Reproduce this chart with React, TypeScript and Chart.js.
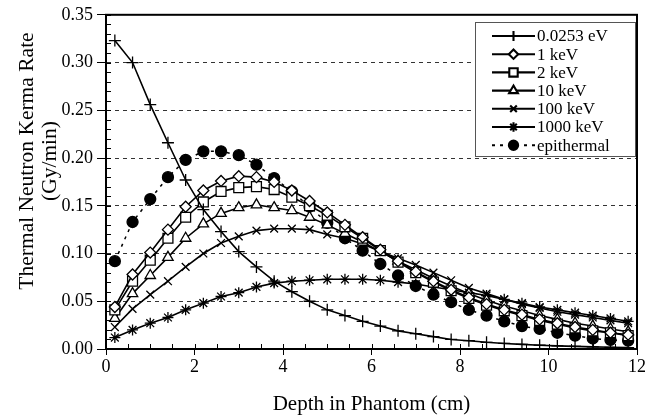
import React, { useEffect, useRef } from 'react';
import { Chart, registerables } from 'chart.js';
import { drawPoint } from 'chart.js/helpers';

Chart.register(...registerables);

// ---- data ----
const depthCm = [0.2, 0.6, 1.0, 1.4, 1.8, 2.2, 2.6, 3.0, 3.4, 3.8, 4.2, 4.6, 5.0, 5.4, 5.8, 6.2, 6.6, 7.0, 7.4, 7.8, 8.2, 8.6, 9.0, 9.4, 9.8, 10.2, 10.6, 11.0, 11.4, 11.8];

const thermal0253eV = [0.323, 0.300, 0.256, 0.216, 0.177, 0.146, 0.123, 0.102, 0.086, 0.071, 0.060, 0.050, 0.041, 0.035, 0.029, 0.024, 0.019, 0.016, 0.013, 0.010, 0.0087, 0.007, 0.0058, 0.0048, 0.004, 0.0033, 0.0027, 0.0022, 0.0018, 0.0015];
const kev1 = [0.044, 0.078, 0.101, 0.125, 0.149, 0.166, 0.176, 0.181, 0.180, 0.175, 0.166, 0.155, 0.143, 0.130, 0.117, 0.104, 0.092, 0.081, 0.071, 0.062, 0.054, 0.047, 0.041, 0.036, 0.031, 0.027, 0.023, 0.020, 0.017, 0.015];
const kev2 = [0.041, 0.071, 0.093, 0.116, 0.138, 0.154, 0.165, 0.169, 0.170, 0.167, 0.159, 0.150, 0.140, 0.128, 0.116, 0.103, 0.091, 0.080, 0.070, 0.061, 0.053, 0.046, 0.040, 0.035, 0.030, 0.026, 0.022, 0.019, 0.017, 0.014];
const kev10 = [0.032, 0.058, 0.077, 0.096, 0.116, 0.131, 0.142, 0.148, 0.151, 0.148, 0.145, 0.138, 0.130, 0.121, 0.112, 0.102, 0.092, 0.083, 0.074, 0.066, 0.058, 0.051, 0.045, 0.040, 0.035, 0.031, 0.027, 0.024, 0.021, 0.018];
const kev100 = [0.023, 0.042, 0.057, 0.071, 0.086, 0.100, 0.111, 0.118, 0.124, 0.126, 0.126, 0.125, 0.120, 0.116, 0.110, 0.102, 0.095, 0.088, 0.080, 0.072, 0.064, 0.058, 0.052, 0.047, 0.043, 0.039, 0.036, 0.033, 0.030, 0.027];
const kev1000 = [0.012, 0.020, 0.027, 0.033, 0.041, 0.048, 0.055, 0.059, 0.065, 0.069, 0.071, 0.072, 0.073, 0.073, 0.073, 0.072, 0.070, 0.068, 0.065, 0.062, 0.059, 0.056, 0.052, 0.048, 0.044, 0.041, 0.038, 0.035, 0.032, 0.029];
const epithermal = [0.092, 0.133, 0.157, 0.180, 0.198, 0.207, 0.207, 0.203, 0.193, 0.179, 0.165, 0.149, 0.132, 0.116, 0.103, 0.089, 0.077, 0.066, 0.057, 0.049, 0.041, 0.035, 0.029, 0.024, 0.021, 0.017, 0.014, 0.011, 0.0095, 0.0087];

const seriesLabels = ['0.0253 eV', '1 keV', '2 keV', '10 keV', '100 keV', '1000 keV', 'epithermal'];
const xTitle = 'Depth in Phantom (cm)';
const yTitle = ['Thermal Neutron Kerma Rate', '(Gy/min)'];

const SERIF = '"Liberation Serif", "Times New Roman", serif';

const toPts = (ys: number[]) => ys.map((y, i) => ({ x: depthCm[i], y }));

const boxPlugin = {
  id: 'plotBox',
  beforeDatasetsDraw(chart: any) {
    const { ctx, chartArea: a } = chart;
    ctx.save();
    ctx.strokeStyle = '#000';
    ctx.lineWidth = 2;
    ctx.strokeRect(a.left, a.top, a.right - a.left, a.bottom - a.top);
    ctx.lineWidth = 1;
    const xs = chart.scales.x;
    const ys = chart.scales.y;
    ctx.beginPath();
    for (let v = 0; v <= 12.0001; v += 0.5) {
      const px = Math.round(xs.getPixelForValue(v)) + 0.5;
      ctx.moveTo(px, a.bottom);
      ctx.lineTo(px, a.bottom - 5);
    }
    for (let k = 0; k <= 35; k++) {
      const py = Math.round(ys.getPixelForValue(k / 100)) + 0.5;
      ctx.moveTo(a.left, py);
      ctx.lineTo(a.left + 5, py);
    }
    ctx.stroke();
    ctx.restore();
  },
};

const yTitlePlugin = {
  id: 'yTitle',
  afterDraw(chart: any) {
    const { ctx } = chart;
    ctx.save();
    ctx.fillStyle = '#000';
    ctx.font = `21.5px ${SERIF}`;
    ctx.textAlign = 'center';
    ctx.textBaseline = 'middle';
    yTitle.forEach((line, i) => {
      ctx.save();
      ctx.translate(27 + i * 23, 161);
      ctx.rotate(-Math.PI / 2);
      ctx.fillText(line, 0, 0);
      ctx.restore();
    });
    ctx.restore();
  },
};

const legendPlugin = {
  id: 'boxLegend',
  afterDraw(chart: any) {
    const { ctx } = chart;
    const bx = 475, by = 22, bw = 160, bh = 134;
    ctx.save();
    ctx.fillStyle = '#fff';
    ctx.fillRect(bx, by, bw, bh);
    ctx.strokeStyle = '#555';
    ctx.lineWidth = 1;
    ctx.strokeRect(bx + 0.5, by + 0.5, bw, bh);
    ctx.font = `17px ${SERIF}`;
    ctx.textBaseline = 'middle';
    ctx.textAlign = 'left';
    chart.data.datasets.forEach((ds: any, i: number) => {
      const cy = by + 14 + i * 18.2;
      const x1 = bx + 17, x2 = bx + 60, xm = (x1 + x2) / 2;
      ctx.strokeStyle = '#000';
      ctx.lineWidth = ds.borderWidth + 0.5;
      ctx.setLineDash(ds.borderDash || []);
      ctx.beginPath();
      ctx.moveTo(x1, cy);
      ctx.lineTo(x2, cy);
      ctx.stroke();
      ctx.setLineDash([]);
      ctx.fillStyle = ds.pointBackgroundColor;
      ctx.strokeStyle = '#000';
      drawPoint(ctx, {
        pointStyle: ds.pointStyle,
        rotation: 0,
        radius: ds.pointRadius * 0.85,
        borderWidth: ds.pointBorderWidth,
      }, xm, cy);
      ctx.fillStyle = '#000';
      ctx.fillText(ds.label, x2 + 2, cy + 1);
    });
    ctx.restore();
  },
};

export default function App() {
  const ref = useRef<HTMLCanvasElement | null>(null);
  useEffect(() => {
    if (!ref.current) return;
    const mk = (i: number, data: number[], style: string, radius: number, fill: string, extra: any = {}) => ({
      label: seriesLabels[i],
      data: toPts(data),
      borderColor: '#000',
      borderWidth: 1.6,
      pointStyle: style,
      pointRadius: radius,
      pointBorderWidth: 1.3,
      pointBorderColor: '#000',
      pointBackgroundColor: fill,
      tension: 0,
      ...extra,
    });
    const chart = new Chart(ref.current, {
      type: 'line',
      data: {
        datasets: [
          mk(0, thermal0253eV, 'cross', 6, '#000'),
          mk(1, kev1, 'rectRot', 5.5, '#fff'),
          mk(2, kev2, 'rect', 7, '#fff'),
          mk(3, kev10, 'triangle', 6, '#fff'),
          mk(4, kev100, 'crossRot', 5.5, '#000'),
          mk(5, kev1000, 'star', 5.5, '#000'),
          mk(6, epithermal, 'circle', 5.5, '#000', { borderDash: [3, 5], borderWidth: 1.5 }),
        ],
      },
      options: {
        animation: false,
        responsive: false,
        devicePixelRatio: 1,
        layout: { autoPadding: false, padding: { left: 0, right: 6, top: 14, bottom: 0 } },
        plugins: { legend: { display: false }, tooltip: { enabled: false } },
        scales: {
          x: {
            type: 'linear',
            min: 0,
            max: 12,
            afterFit: (s: any) => { s.height = 70; },
            ticks: { stepSize: 2, color: '#000', font: { family: SERIF, size: 18 }, padding: 1, maxRotation: 0 },
            grid: { drawOnChartArea: false, drawTicks: true, tickLength: 6, color: '#000', tickColor: '#000' },
            border: { display: true, color: '#000', width: 2 },
            title: { display: true, text: xTitle, color: '#000', font: { family: SERIF, size: 21, lineHeight: 1.2 }, padding: { top: 0, bottom: 1.5 } },
          },
          y: {
            type: 'linear',
            min: 0,
            max: 0.35,
            afterFit: (s: any) => { s.width = 106; },
            ticks: { stepSize: 0.05, color: '#000', font: { family: SERIF, size: 18 }, padding: 4, callback: (v: any) => Number(v).toFixed(2) },
            grid: {
              drawOnChartArea: true,
              drawTicks: true,
              tickLength: 9,
              lineWidth: 1,
              color: (c: any) => (c.tick && c.tick.value > 0.001 && c.tick.value < 0.349 ? '#333' : 'rgba(0,0,0,0)'),
              tickColor: '#000',
            },
            border: { display: true, color: '#000', width: 2, dash: [4, 4] },
            title: { display: false },
          },
        },
      },
      plugins: [boxPlugin, legendPlugin, yTitlePlugin],
    } as any);
    return () => chart.destroy();
  }, []);
  return (
    <div style={{ position: 'absolute', left: 0, top: 0, width: 647, height: 419, background: '#fff' }}>
      <canvas ref={ref} width={647} height={419} style={{ display: 'block' }} />
    </div>
  );
}
